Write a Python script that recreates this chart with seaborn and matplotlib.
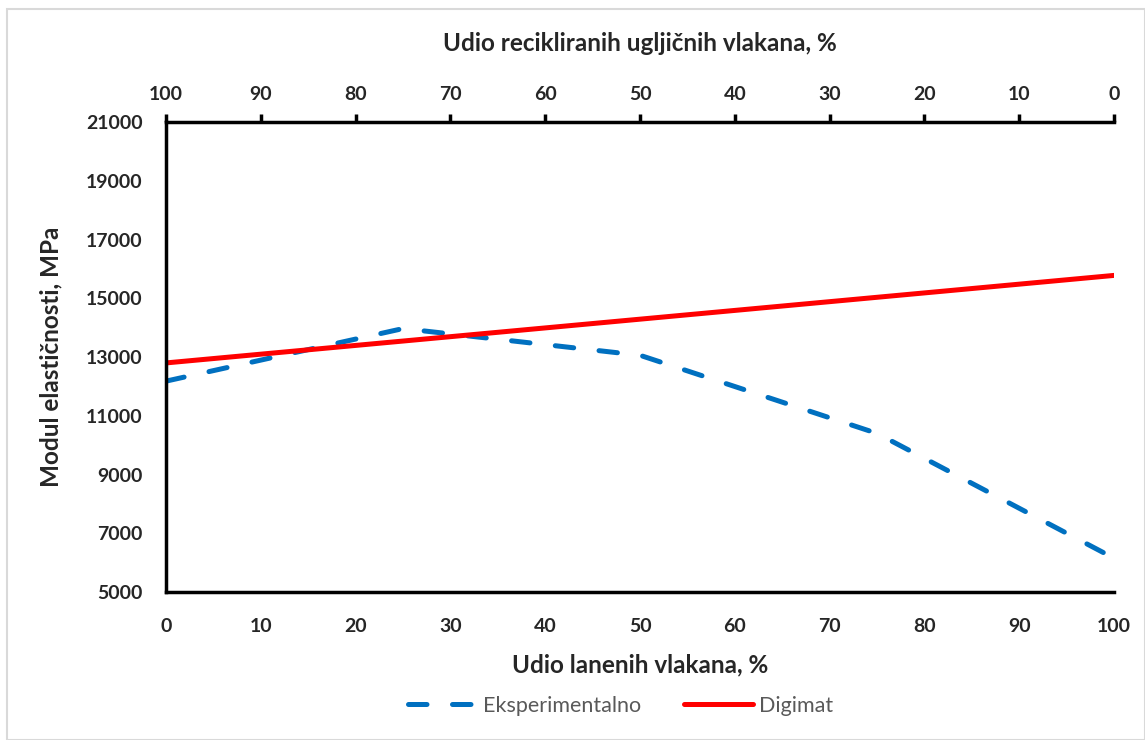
import matplotlib
matplotlib.use("Agg")
import matplotlib.pyplot as plt
import seaborn as sns
import pandas as pd
from matplotlib.patches import Rectangle

# Data
flax_share = [0, 25, 50, 75, 100]
modulus_experimental = [12180, 13970, 13060, 10400, 6150]
modulus_digimat = [12800, 13545, 14290, 15035, 15780]
x_ticks = [0, 10, 20, 30, 40, 50, 60, 70, 80, 90, 100]
y_ticks = [5000, 7000, 9000, 11000, 13000, 15000, 17000, 19000, 21000]

sns.set_style("white")
plt.rcParams["font.family"] = ["Lato", "DejaVu Sans"]

df = pd.DataFrame({
    "x": flax_share * 2,
    "y": modulus_experimental + modulus_digimat,
    "serija": ["Eksperimentalno"] * 5 + ["Digimat"] * 5,
})

fig = plt.figure(figsize=(11.45, 7.4), dpi=100)
ax = fig.add_axes([0.145, 0.2, 0.828, 0.635])

sns.lineplot(data=df[df.serija == "Eksperimentalno"], x="x", y="y", ax=ax,
             color="#0070C0", linewidth=3.6, dashes=False, legend=False,
             label="Eksperimentalno")
sns.lineplot(data=df[df.serija == "Digimat"], x="x", y="y", ax=ax,
             color="#FF0000", linewidth=3.6, legend=False, label="Digimat")
ax.lines[0].set_linestyle((0, (3.7, 5.1)))
ax.lines[0].set_dash_capstyle("round")
ax.lines[0].set_dash_joinstyle("round")

ax.set_xlim(0, 100)
ax.set_ylim(5000, 21000)
ax.set_xticks(x_ticks)
ax.set_yticks(y_ticks)
ax.tick_params(axis="y", length=0, labelsize=14, pad=17)
ax.tick_params(axis="x", length=0, labelsize=14, pad=19)
for lbl in ax.get_xticklabels() + ax.get_yticklabels():
    lbl.set_fontweight("bold")

for side in ["left", "bottom"]:
    ax.spines[side].set_visible(True)
    ax.spines[side].set_color("black")
    ax.spines[side].set_linewidth(2.5)
ax.spines["right"].set_visible(False)
ax.spines["top"].set_visible(False)

ax.set_xlabel("Udio lanenih vlakana, %", fontsize=17.5, fontweight="bold", labelpad=13)
ax.set_ylabel("Modul elastičnosti, MPa", fontsize=17.5, fontweight="bold", labelpad=17)

# Top axis: share of recycled carbon fibres (complement of flax share)
top = ax.secondary_xaxis("top", functions=(lambda v: 100 - v, lambda v: 100 - v))
top.set_xticks(x_ticks)
top.spines["top"].set_linewidth(2.5)
top.spines["top"].set_color("black")
top.tick_params(axis="x", direction="out", length=6, width=2.5, color="black",
                labelsize=14, pad=8)
for lbl in top.get_xticklabels():
    lbl.set_fontweight("bold")
top.set_xlabel("Udio recikliranih ugljičnih vlakana, %", fontsize=17.5,
               fontweight="bold", labelpad=25)

handles = ax.lines[:2]
leg = fig.legend(handles, ["Eksperimentalno", "Digimat"], loc="center",
                 bbox_to_anchor=(0.542, 0.046), ncol=2, frameon=False,
                 fontsize=15.5, handlelength=3.2, columnspacing=2.0,
                 handletextpad=0.3)
for t in leg.get_texts():
    t.set_color("#595959")

fig.patches.append(Rectangle((0.006, 0.0), 0.994, 0.988, transform=fig.transFigure,
                             fill=False, edgecolor="#D9D9D9", linewidth=1.5))

fig.savefig("out.png", dpi=100, facecolor="white")
